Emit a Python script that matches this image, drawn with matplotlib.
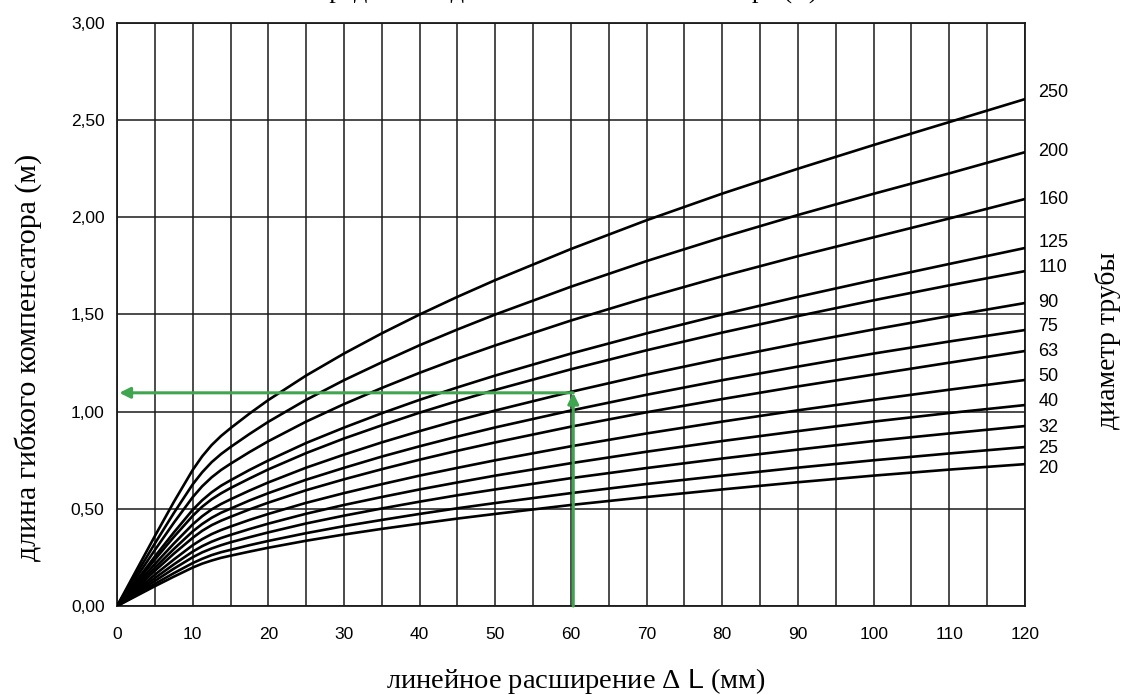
import numpy as np
import matplotlib.pyplot as plt

plt.rcParams['mathtext.fontset'] = 'custom'
plt.rcParams['mathtext.rm'] = 'Liberation Serif'
plt.rcParams['mathtext.sf'] = 'Liberation Sans'

# линейное расширение, мм
dl = [0, 2.5, 5, 7.5, 10, 11.25, 12.5, 13.75, 15, 17.5, 20, 25, 30, 35, 40, 45, 50, 60, 70, 80, 90, 100, 110, 120]

# длина гибкого компенсатора (м) для каждого диаметра трубы
l250 = [0, 0.180, 0.360, 0.535, 0.700, 0.770, 0.828, 0.875, 0.915, 0.990, 1.060, 1.186, 1.299, 1.403, 1.500, 1.591, 1.677, 1.837, 1.985, 2.122, 2.250, 2.372, 2.490, 2.608]
l200 = [0, 0.161, 0.322, 0.478, 0.626, 0.688, 0.740, 0.782, 0.818, 0.885, 0.948, 1.061, 1.162, 1.254, 1.342, 1.423, 1.500, 1.643, 1.775, 1.897, 2.012, 2.121, 2.226, 2.335]
l160 = [0, 0.144, 0.288, 0.428, 0.560, 0.616, 0.662, 0.700, 0.732, 0.792, 0.848, 0.949, 1.039, 1.122, 1.200, 1.273, 1.341, 1.469, 1.587, 1.697, 1.800, 1.897, 1.994, 2.094]
l125 = [0, 0.127, 0.255, 0.378, 0.495, 0.544, 0.585, 0.619, 0.647, 0.700, 0.749, 0.839, 0.918, 0.992, 1.061, 1.125, 1.186, 1.299, 1.403, 1.500, 1.591, 1.677, 1.760, 1.842]
l110 = [0, 0.119, 0.239, 0.355, 0.464, 0.511, 0.549, 0.580, 0.607, 0.656, 0.703, 0.787, 0.862, 0.930, 0.995, 1.055, 1.112, 1.218, 1.316, 1.407, 1.492, 1.573, 1.650, 1.723]
l90 = [0, 0.108, 0.216, 0.321, 0.420, 0.462, 0.497, 0.525, 0.549, 0.594, 0.636, 0.712, 0.779, 0.842, 0.900, 0.955, 1.006, 1.102, 1.191, 1.273, 1.350, 1.423, 1.492, 1.559]
l75 = [0, 0.099, 0.197, 0.293, 0.384, 0.422, 0.454, 0.480, 0.501, 0.543, 0.581, 0.650, 0.711, 0.769, 0.822, 0.872, 0.919, 1.006, 1.087, 1.162, 1.232, 1.299, 1.361, 1.420]
l63 = [0, 0.090, 0.181, 0.269, 0.351, 0.387, 0.416, 0.439, 0.459, 0.497, 0.532, 0.596, 0.652, 0.704, 0.753, 0.799, 0.842, 0.923, 0.997, 1.065, 1.130, 1.191, 1.252, 1.312]
l50 = [0, 0.080, 0.161, 0.239, 0.313, 0.344, 0.370, 0.391, 0.409, 0.443, 0.474, 0.531, 0.581, 0.627, 0.671, 0.711, 0.750, 0.822, 0.888, 0.949, 1.007, 1.061, 1.113, 1.163]
l40 = [0, 0.072, 0.144, 0.214, 0.280, 0.308, 0.331, 0.350, 0.366, 0.396, 0.424, 0.475, 0.520, 0.561, 0.600, 0.636, 0.671, 0.735, 0.794, 0.849, 0.900, 0.949, 0.993, 1.034]
l32 = [0, 0.064, 0.129, 0.192, 0.251, 0.276, 0.296, 0.313, 0.328, 0.354, 0.379, 0.425, 0.465, 0.502, 0.537, 0.570, 0.600, 0.658, 0.710, 0.759, 0.805, 0.849, 0.888, 0.926]
l25 = [0, 0.057, 0.114, 0.169, 0.221, 0.243, 0.262, 0.277, 0.289, 0.313, 0.335, 0.375, 0.411, 0.443, 0.474, 0.503, 0.530, 0.581, 0.628, 0.671, 0.712, 0.750, 0.785, 0.818]
l20 = [0, 0.051, 0.102, 0.151, 0.198, 0.218, 0.234, 0.248, 0.259, 0.280, 0.300, 0.336, 0.368, 0.397, 0.424, 0.450, 0.474, 0.520, 0.561, 0.600, 0.637, 0.671, 0.702, 0.730]

diameters = ['250', '200', '160', '125', '110', '90', '75', '63', '50', '40', '32', '25', '20']
curves = [l250, l200, l160, l125, l110, l90, l75, l63, l50, l40, l32, l25, l20]
label_y = [2.64, 2.34, 2.09, 1.87, 1.74, 1.56, 1.44, 1.31, 1.18, 1.05, 0.92, 0.81, 0.71]

# пример: расширение 60 мм -> длина 1,10 м
ex_dl = 60.3
ex_len = 1.097

sans = 'Liberation Sans'
serif = 'Liberation Serif'
green = '#3fa64f'

fig = plt.figure(figsize=(11.22, 6.95), dpi=100)
ax = fig.add_axes([0.1043, 0.128, 0.8092, 0.839])

for c in curves:
    ax.plot(dl, c, color='black', lw=1.9, solid_joinstyle='round', zorder=3)

ax.set_xlim(0, 120)
ax.set_ylim(0, 3)
ax.set_xticks(np.arange(0, 121, 10))
ax.set_xticks(np.arange(0, 121, 5), minor=True)
ax.set_yticks(np.arange(0, 3.01, 0.5))
ax.yaxis.set_major_formatter(plt.FuncFormatter(lambda v, p: ('%.2f' % v).replace('.', ',')))
ax.grid(which='both', color='#1a1a1a', lw=1.1, zorder=1)
ax.tick_params(which='both', length=0, labelsize=12.5)
ax.tick_params(axis='x', pad=15)
ax.tick_params(axis='y', pad=9)
for lab in ax.get_xticklabels() + ax.get_yticklabels():
    lab.set_fontfamily(sans)
for s in ax.spines.values():
    s.set_linewidth(1.3)
    s.set_color('#1a1a1a')

for d, y in zip(diameters, label_y):
    ax.text(121.8, y, d, fontsize=13, family=sans, va='center', ha='left', clip_on=False)

# зелёные стрелки
ax.annotate('', xy=(0.3, ex_len), xytext=(ex_dl, ex_len),
            arrowprops=dict(arrowstyle='-|>', color=green, lw=2.2, mutation_scale=16, shrinkA=0, shrinkB=0), zorder=4)
ax.annotate('', xy=(ex_dl, ex_len), xytext=(ex_dl, 0),
            arrowprops=dict(arrowstyle='-|>', color=green, lw=2.2, mutation_scale=16, shrinkA=0, shrinkB=0), zorder=4)

fig.text(576 / 1122, 1 - 681 / 695, r'линейное расширение $\mathrm{\Delta}$ $\mathsf{L}$ (мм)',
         fontsize=20.5, family=serif, ha='center', va='center')
fig.text(28 / 1122, 1 - 357 / 695, 'длина гибкого компенсатора (м)', rotation=90,
         fontsize=21.5, family=serif, ha='center', va='center')
fig.text(1108 / 1122, 1 - 340 / 695, 'диаметр трубы', rotation=90,
         fontsize=20, family=serif, ha='center', va='center')
fig.text(0.496, 1.003, 'Определение длины гибкого компенсатора (м)', fontsize=19, family=serif,
         ha='center', va='baseline')

fig.savefig('out.png', dpi=100)
